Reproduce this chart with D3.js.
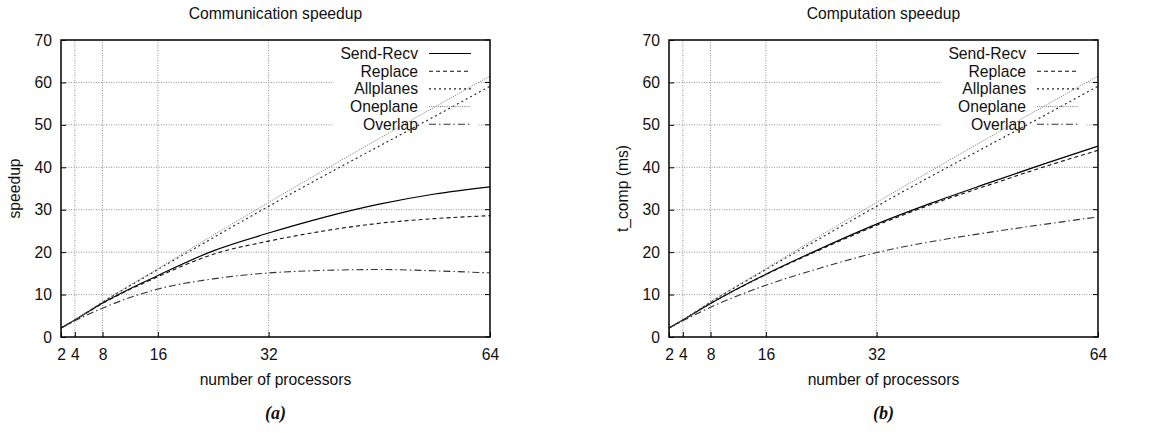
<!DOCTYPE html>
<html>
<head>
<meta charset="utf-8">
<script src="https://cdn.jsdelivr.net/npm/d3@7"></script>
<style>
  body { margin: 0; background: #fff; }
  text { font-family: "Liberation Sans", Arial, sans-serif; fill: #111; }
</style>
</head>
<body>
<svg id="chart" width="1168" height="433"></svg>
<script>
var procs = [2, 4, 8, 16, 24, 32, 40, 48, 56, 64];
var xTicks = [2, 4, 8, 16, 32, 64];
var yTicks = [0, 10, 20, 30, 40, 50, 60, 70];
var seriesNames = ["Send-Recv", "Replace", "Allplanes", "Oneplane", "Overlap"];

// (a) communication speedup
var commSendRecv = [2.1, 4.0, 8.0, 14.5, 20.3, 24.5, 28.2, 31.3, 33.7, 35.4];
var commReplace  = [2.1, 4.0, 7.9, 14.2, 19.5, 22.6, 25.0, 26.8, 27.9, 28.6];
var commAllplanes = [2.1, 4.0, 8.2, 15.9, 23.4, 30.8, 38.0, 45.0, 52.0, 59.1];
var commOneplane = [2.1, 4.0, 8.3, 16.1, 24.0, 31.7, 39.3, 46.8, 54.2, 61.5];
var commOverlap  = [2.1, 3.8, 6.8, 11.3, 13.7, 15.1, 15.7, 15.9, 15.6, 15.1];

// (b) computation speedup
var compSendRecv = [2.1, 4.0, 7.9, 14.8, 20.9, 26.6, 31.6, 36.2, 40.7, 45.0];
var compReplace  = [2.1, 4.0, 7.9, 14.7, 20.7, 26.3, 31.3, 35.7, 40.0, 44.0];
var compAllplanes = [2.1, 4.0, 8.2, 15.9, 23.4, 30.8, 38.0, 45.0, 52.0, 59.1];
var compOneplane = [2.1, 4.0, 8.3, 16.1, 24.0, 31.7, 39.3, 46.8, 54.2, 61.5];
var compOverlap  = [2.1, 3.8, 7.0, 12.2, 16.3, 19.9, 22.5, 24.6, 26.5, 28.3];

// line style per series, same order as seriesNames
var styles = [
    { stroke: "#000", dash: null, width: 1.2 },
    { stroke: "#111", dash: "4,3", width: 1.1 },
    { stroke: "#222", dash: "2,3", width: 1.1 },
    { stroke: "#777", dash: "1,1.2", width: 1.0 },
    { stroke: "#333", dash: "7,3,1.5,3", width: 1.1 }
];

var svg = d3.select("#chart");

function drawPanel(left, title, ylabel, caption, series) {
    var top = 40, bottom = 337, right = left + 429;
    var x = d3.scaleLinear().domain([2, 64]).range([left, right]);
    var y = d3.scaleLinear().domain([0, 70]).range([bottom, top]);
    var g = svg.append("g");

    // grid
    g.selectAll(".gy").data(yTicks.slice(1, -1)).enter().append("line")
        .attr("x1", left).attr("x2", right)
        .attr("y1", function (d) { return y(d); }).attr("y2", function (d) { return y(d); })
        .attr("stroke", "#777").attr("stroke-width", 0.8).attr("stroke-dasharray", "1,1.5");
    g.selectAll(".gx").data(xTicks.slice(1, -1)).enter().append("line")
        .attr("y1", top).attr("y2", bottom)
        .attr("x1", function (d) { return x(d); }).attr("x2", function (d) { return x(d); })
        .attr("stroke", "#777").attr("stroke-width", 0.8).attr("stroke-dasharray", "1,1.5");

    // legend box clears the grid
    g.append("rect").attr("x", right - 157).attr("y", top + 1)
        .attr("width", 145).attr("height", 93).attr("fill", "#fff");

    // mirror ticks on the right border
    g.selectAll(".rt").data(yTicks).enter().append("line")
        .attr("x1", right - 5).attr("x2", right)
        .attr("y1", function (d) { return y(d); }).attr("y2", function (d) { return y(d); })
        .attr("stroke", "#000");

    // axes
    var yAxis = g.append("g").attr("transform", "translate(" + left + ",0)")
        .call(d3.axisLeft(y).tickValues(yTicks).tickSize(-5).tickPadding(9));
    var xAxis = g.append("g").attr("transform", "translate(0," + bottom + ")")
        .call(d3.axisBottom(x).tickValues(xTicks).tickSize(-5).tickPadding(12));
    [yAxis, xAxis].forEach(function (a) {
        a.select(".domain").remove();
        a.selectAll("text").style("font-size", "15.7px")
            .style("font-family", "'Liberation Sans', Arial, sans-serif").attr("fill", "#111");
        a.selectAll("line").attr("stroke", "#000");
    });

    // curves
    var line = d3.line()
        .x(function (d, i) { return x(procs[i]); })
        .y(function (d) { return y(d); })
        .curve(d3.curveMonotoneX);
    series.forEach(function (vals, i) {
        g.append("path").attr("d", line(vals)).attr("fill", "none")
            .attr("stroke", styles[i].stroke).attr("stroke-width", styles[i].width)
            .attr("stroke-dasharray", styles[i].dash);
    });

    // legend
    seriesNames.forEach(function (name, i) {
        var ly = 53.5 + i * 17.7;
        g.append("text").attr("x", right - 72).attr("y", ly).attr("dy", "0.35em")
            .attr("text-anchor", "end").style("font-size", "15.7px").text(name);
        g.append("line").attr("x1", right - 61).attr("x2", right - 19)
            .attr("y1", ly).attr("y2", ly)
            .attr("stroke", styles[i].stroke).attr("stroke-width", styles[i].width)
            .attr("stroke-dasharray", styles[i].dash);
    });

    // frame
    g.append("rect").attr("x", left).attr("y", top)
        .attr("width", right - left).attr("height", bottom - top)
        .attr("fill", "none").attr("stroke", "#000").attr("stroke-width", 1.5);

    var cx = (left + right) / 2;
    g.append("text").attr("x", cx).attr("y", 19).attr("text-anchor", "middle")
        .style("font-size", "15.7px").text(title);
    g.append("text").attr("x", cx).attr("y", 385).attr("text-anchor", "middle")
        .style("font-size", "15.7px").text("number of processors");
    g.append("text").attr("transform", "translate(" + (left - 41) + "," + ((top + bottom) / 2) + ") rotate(-90)")
        .attr("text-anchor", "middle").style("font-size", "15.7px").text(ylabel);
    g.append("text").attr("x", cx).attr("y", 419).attr("text-anchor", "middle")
        .style("font-family", "'Liberation Serif', 'Times New Roman', serif")
        .style("font-weight", "bold").style("font-style", "italic")
        .style("font-size", "18px").text(caption);
}

drawPanel(61, "Communication speedup", "speedup", "(a)",
    [commSendRecv, commReplace, commAllplanes, commOneplane, commOverlap]);
drawPanel(669, "Computation speedup", "t_comp (ms)", "(b)",
    [compSendRecv, compReplace, compAllplanes, compOneplane, compOverlap]);
</script>
</body>
</html>
